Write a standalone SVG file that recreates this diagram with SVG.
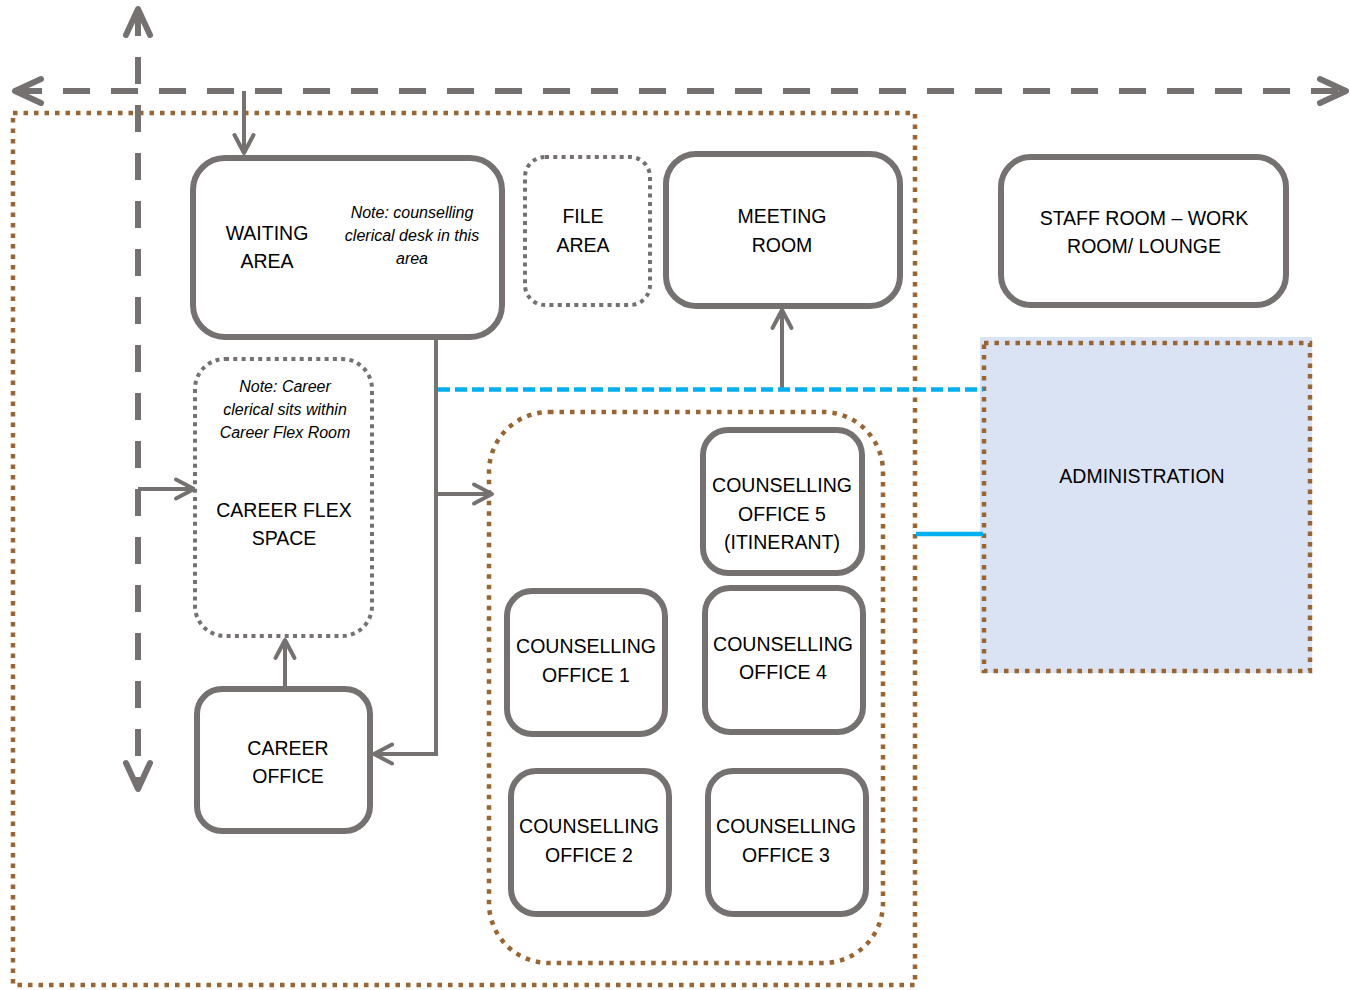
<svg xmlns="http://www.w3.org/2000/svg" width="1350" height="990" viewBox="0 0 1350 990">
<style>
.box{fill:#fff;stroke:#767171;stroke-width:6}
.dotg{fill:#fff;stroke:#767171;stroke-width:4;stroke-dasharray:4 4.3}
.dotb{fill:none;stroke:#9A6530;stroke-width:4.5;stroke-dasharray:4.5 6}
.lbl{font-family:"Liberation Sans",Arial,sans-serif;font-size:19.5px;fill:#000;text-anchor:middle}
.note{font-family:"Liberation Sans",Arial,sans-serif;font-size:16px;font-style:italic;fill:#000;text-anchor:middle}
.con{fill:none;stroke:#767171;stroke-width:4}
.dash{fill:none;stroke:#767171;stroke-width:6;stroke-dasharray:27 21}
</style>
<defs>
<marker id="sm" viewBox="-22 -14 26 28" refX="0" refY="0" markerWidth="26" markerHeight="28" markerUnits="userSpaceOnUse" orient="auto" overflow="visible">
<path d="M-18,-9.5 L0,0 L-18,9.5" fill="none" stroke="#767171" stroke-width="4" stroke-linecap="round" stroke-linejoin="round"/>
</marker>
<marker id="bg" viewBox="-32 -18 36 36" refX="0" refY="0" markerWidth="36" markerHeight="36" markerUnits="userSpaceOnUse" orient="auto-start-reverse" overflow="visible">
<path d="M-26,-12 L0,0 L-26,12" fill="none" stroke="#767171" stroke-width="6" stroke-linecap="round" stroke-linejoin="round"/>
</marker>
</defs>

<g id="outer-zone">
<rect class="dotb" x="13" y="113" width="902" height="872"/>
</g>

<g id="administration">
<rect x="980" y="337" width="332" height="336" fill="#DAE3F3"/>
<rect class="dotb" x="984" y="343" width="326" height="328"/>
<text class="lbl" x="1142" y="483">ADMINISTRATION</text>
</g>

<g id="counselling-zone">
<rect class="dotb" x="489" y="412" width="394" height="551" rx="60"/>
</g>

<g id="connectors">
<path class="dash" d="M15,91 H1346" marker-start="url(#bg)" marker-end="url(#bg)"/>
<path class="dash" d="M138,9 V789" marker-start="url(#bg)" marker-end="url(#bg)"/>
<path class="con" d="M244,91 V153" marker-end="url(#sm)"/>
<path class="con" d="M138,489 H194" marker-end="url(#sm)"/>
<path class="con" d="M436,338 V754 H374" marker-end="url(#sm)"/>
<path class="con" d="M436,494 H492" marker-end="url(#sm)"/>
<path class="con" d="M782,389 V310" marker-end="url(#sm)"/>
<path class="con" d="M285,688 V640" marker-end="url(#sm)"/>
<path d="M438,389.5 H983" fill="none" stroke="#00B0F0" stroke-width="4.5" stroke-dasharray="12 5"/>
<path d="M916,534 H983" fill="none" stroke="#00B0F0" stroke-width="4.5"/>
</g>

<g id="waiting-area">
<rect class="box" x="193" y="158" width="309" height="179" rx="32"/>
<text class="lbl" x="267" y="240">WAITING</text>
<text class="lbl" x="267" y="268">AREA</text>
<text class="note" x="412" y="218">Note: counselling</text>
<text class="note" x="412" y="241">clerical desk in this</text>
<text class="note" x="412" y="264">area</text>
</g>

<g id="file-area">
<rect class="dotg" x="525" y="157" width="125" height="148" rx="20"/>
<text class="lbl" x="583" y="223">FILE</text>
<text class="lbl" x="583" y="252">AREA</text>
</g>

<g id="meeting-room">
<rect class="box" x="666" y="154" width="234" height="152" rx="30"/>
<text class="lbl" x="782" y="223">MEETING</text>
<text class="lbl" x="782" y="252">ROOM</text>
</g>

<g id="staff-room">
<rect class="box" x="1001" y="157" width="285" height="148" rx="30"/>
<text class="lbl" x="1144" y="225">STAFF ROOM – WORK</text>
<text class="lbl" x="1144" y="253">ROOM/ LOUNGE</text>
</g>

<g id="career-flex-space">
<rect class="dotg" x="195" y="359" width="177" height="277" rx="30"/>
<text class="note" x="285" y="392">Note: Career</text>
<text class="note" x="285" y="415">clerical sits within</text>
<text class="note" x="285" y="438">Career Flex Room</text>
<text class="lbl" x="284" y="517">CAREER FLEX</text>
<text class="lbl" x="284" y="545">SPACE</text>
</g>

<g id="career-office">
<rect class="box" x="197" y="689" width="173" height="142" rx="25"/>
<text class="lbl" x="288" y="755">CAREER</text>
<text class="lbl" x="288" y="783">OFFICE</text>
</g>

<g id="counselling-office-5">
<rect class="box" x="703" y="430" width="159" height="143" rx="25"/>
<text class="lbl" x="782" y="492">COUNSELLING</text>
<text class="lbl" x="782" y="521">OFFICE 5</text>
<text class="lbl" x="782" y="549">(ITINERANT)</text>
</g>

<g id="counselling-office-1">
<rect class="box" x="507" y="591" width="158" height="143" rx="25"/>
<text class="lbl" x="586" y="653">COUNSELLING</text>
<text class="lbl" x="586" y="682">OFFICE 1</text>
</g>

<g id="counselling-office-4">
<rect class="box" x="705" y="588" width="158" height="144" rx="25"/>
<text class="lbl" x="783" y="651">COUNSELLING</text>
<text class="lbl" x="783" y="679">OFFICE 4</text>
</g>

<g id="counselling-office-2">
<rect class="box" x="511" y="771" width="158" height="143" rx="25"/>
<text class="lbl" x="589" y="833">COUNSELLING</text>
<text class="lbl" x="589" y="862">OFFICE 2</text>
</g>

<g id="counselling-office-3">
<rect class="box" x="708" y="771" width="158" height="143" rx="25"/>
<text class="lbl" x="786" y="833">COUNSELLING</text>
<text class="lbl" x="786" y="862">OFFICE 3</text>
</g>
</svg>
